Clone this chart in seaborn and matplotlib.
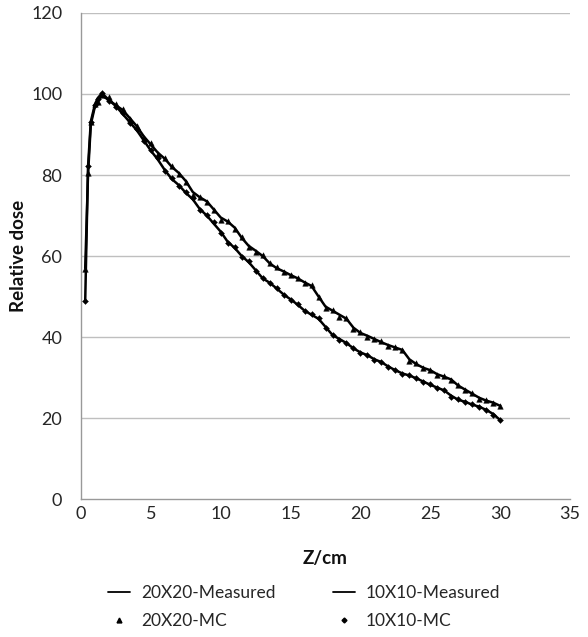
import numpy as np
import pandas as pd
import matplotlib
matplotlib.use("Agg")
import matplotlib.pyplot as plt
import seaborn as sns
from matplotlib.lines import Line2D

depth = [0.3, 0.5, 0.7, 1.0, 1.2, 1.5, 2.0, 2.5, 3.0, 3.5, 4.0, 4.5, 5.0, 5.5, 6.0, 6.5,
         7.0, 7.5, 8.0, 8.5, 9.0, 9.5, 10.0, 10.5, 11.0, 11.5, 12.0, 12.5, 13.0, 13.5,
         14.0, 14.5, 15.0, 15.5, 16.0, 16.5, 17.0, 17.5, 18.0, 18.5, 19.0, 19.5, 20.0,
         20.5, 21.0, 21.5, 22.0, 22.5, 23.0, 23.5, 24.0, 24.5, 25.0, 25.5, 26.0, 26.5,
         27.0, 27.5, 28.0, 28.5, 29.0, 29.5, 30.0]

f20_measured = [57.0, 80.0, 92.5, 97.0, 98.5, 99.6, 98.5, 97.2, 96.0, 94.0, 92.0, 89.5, 87.5,
                85.5, 84.0, 82.0, 80.5, 78.5, 75.8, 74.5, 73.5, 71.5, 69.5, 68.5, 67.0, 64.5,
                62.5, 61.3, 60.0, 58.2, 57.0, 56.2, 55.3, 54.5, 53.5, 52.6, 50.0, 47.5, 46.5,
                45.5, 44.5, 42.3, 41.0, 40.3, 39.5, 38.7, 38.0, 37.4, 36.8, 34.5, 33.3, 32.4,
                31.8, 30.8, 30.2, 29.5, 28.0, 27.0, 26.0, 25.0, 24.3, 23.8, 23.0]
f20_mc = [56.8, 80.5, 93.0, 97.5, 98.0, 99.8, 99.2, 97.5, 96.2, 93.8, 92.2, 89.2, 87.8,
          85.3, 84.3, 82.2, 80.3, 78.3, 75.1, 74.6, 73.4, 71.3, 68.9, 68.7, 66.6, 64.6,
          62.3, 61.1, 60.2, 58.2, 57.2, 56.0, 55.3, 54.6, 53.3, 52.8, 50.0, 47.1, 46.7,
          45.0, 44.7, 42.1, 41.2, 40.0, 39.6, 38.9, 37.8, 37.6, 36.8, 34.2, 33.5, 32.3,
          31.9, 30.6, 30.3, 29.3, 28.2, 26.8, 26.1, 24.8, 24.5, 23.6, 23.0]

f10_measured = [49.0, 82.0, 93.2, 97.5, 99.0, 100.2, 98.5, 97.0, 95.0, 93.0, 91.0, 88.5, 86.0,
                83.8, 81.2, 79.0, 77.5, 75.6, 74.0, 71.6, 70.0, 68.0, 66.0, 63.5, 62.0, 60.0,
                58.5, 56.5, 54.5, 53.4, 52.0, 50.5, 49.3, 48.0, 46.5, 45.5, 44.5, 42.5, 40.5,
                39.5, 38.5, 37.2, 36.2, 35.5, 34.5, 33.8, 32.7, 31.8, 31.0, 30.5, 29.8, 29.0,
                28.2, 27.5, 26.8, 25.5, 24.5, 24.0, 23.3, 22.8, 22.0, 21.0, 19.5]
f10_mc = [49.0, 82.3, 93.0, 97.3, 98.8, 100.3, 98.3, 96.8, 95.2, 92.8, 91.3, 88.3, 86.2,
          84.1, 81.0, 79.2, 77.3, 75.8, 74.2, 71.4, 70.2, 68.5, 65.8, 63.3, 62.2, 59.8,
          58.7, 56.3, 54.5, 53.3, 52.2, 50.3, 49.1, 48.2, 46.3, 45.6, 44.6, 42.3, 40.6,
          39.3, 38.6, 37.2, 36.0, 35.6, 34.3, 33.9, 32.5, 31.9, 30.8, 30.6, 30.0, 28.9,
          28.3, 27.4, 26.9, 25.3, 24.6, 23.9, 23.4, 22.6, 22.1, 20.8, 19.5]

x_ticks = [0, 5, 10, 15, 20, 25, 30, 35]
y_ticks = [0, 20, 40, 60, 80, 100, 120]
legend_labels = ["20X20-Measured", "20X20-MC", "10X10-Measured", "10X10-MC"]

sns.set_theme(style="white")
plt.rcParams['font.family'] = ['Lato', 'DejaVu Sans']

fig = plt.figure(figsize=(5.88, 6.37), dpi=100)
ax = fig.add_axes([0.1378, 0.2166, 0.8316, 0.763])

df20 = pd.DataFrame({"z": depth, "m": f20_measured, "mc": f20_mc})
df10 = pd.DataFrame({"z": depth, "m": f10_measured, "mc": f10_mc})

for y in y_ticks[1:]:
    ax.axhline(y, color="#bfbfbf", lw=1.0, zorder=0)

sns.lineplot(data=df20, x="z", y="m", ax=ax, color="black", lw=1.8, zorder=3)
sns.lineplot(data=df10, x="z", y="m", ax=ax, color="black", lw=1.8, zorder=3)
sns.scatterplot(data=df20, x="z", y="mc", ax=ax, color="black", marker="^", s=16,
                edgecolor="black", linewidth=0.3, zorder=4)
sns.scatterplot(data=df10, x="z", y="mc", ax=ax, color="black", marker="D", s=9,
                edgecolor="black", linewidth=0.3, zorder=4)

ax.set_xlim(0, 35)
ax.set_ylim(0, 120)
ax.set_xticks(x_ticks)
ax.set_yticks(y_ticks)
ax.tick_params(axis="both", labelsize=13, colors="#262626", length=0)
ax.tick_params(axis="y", pad=13.5)
ax.tick_params(axis="x", pad=5)
for s in ["top", "right"]:
    ax.spines[s].set_visible(False)
for s in ["left", "bottom"]:
    ax.spines[s].set_color("#999999")
    ax.spines[s].set_linewidth(1.0)

ax.set_xlabel("Z/cm", fontsize=13.5, fontweight="bold", labelpad=20.5, color="#111111")
ax.set_ylabel("Relative dose", fontsize=13.5, fontweight="bold", labelpad=3, color="#111111")

handles = [
    Line2D([], [], color="black", lw=1.3),
    Line2D([], [], color="black", marker="^", ls="none", markersize=3.5),
    Line2D([], [], color="black", lw=1.3),
    Line2D([], [], color="black", marker="D", ls="none", markersize=2.5),
]
fig.legend(handles, legend_labels, loc="lower center", bbox_to_anchor=(0.517, -0.012),
           ncol=2, frameon=False, fontsize=12.5, handlelength=1.3, handletextpad=0.6,
           columnspacing=3.3, labelspacing=0.68)

fig.savefig("out.png", dpi=100)
